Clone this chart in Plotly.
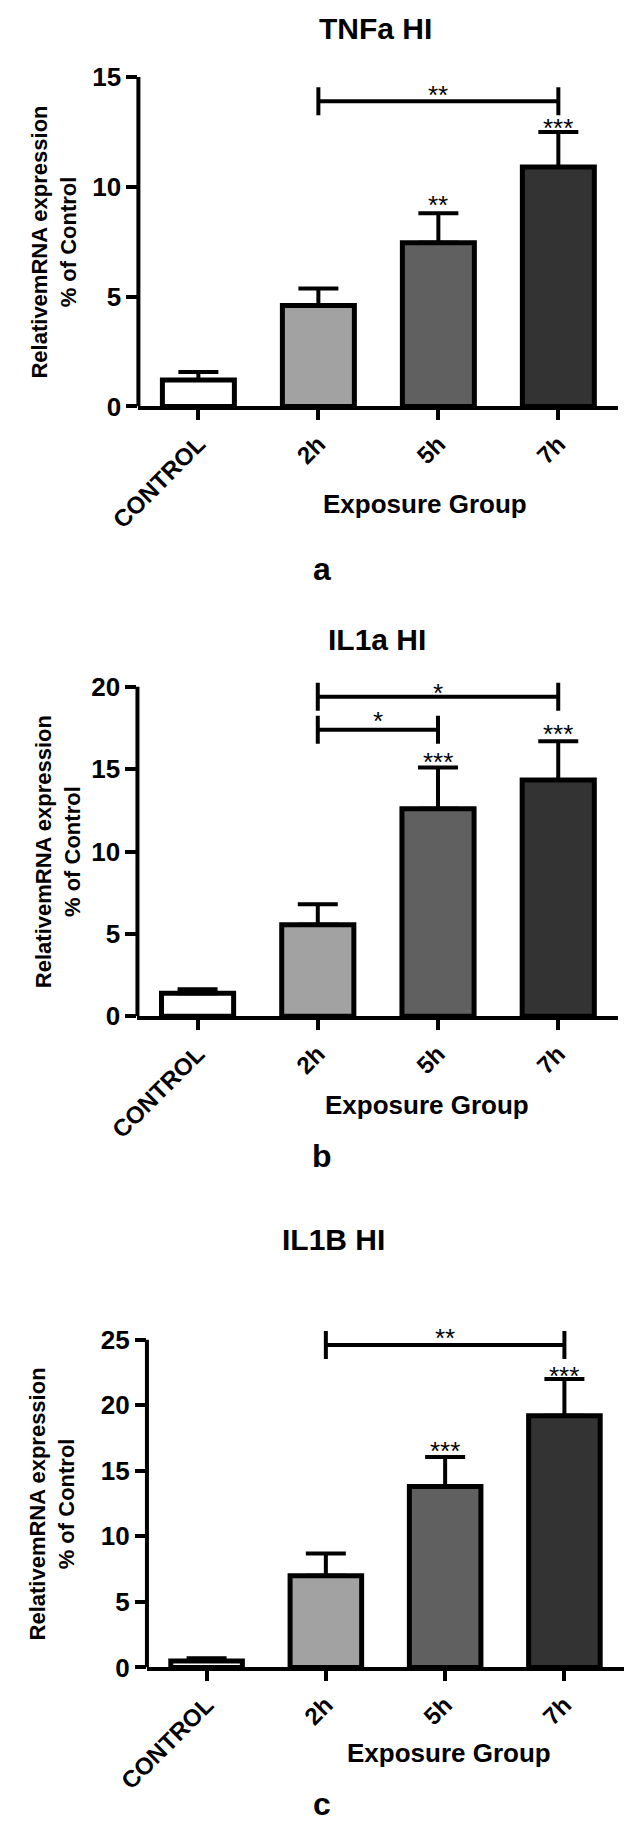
import plotly.graph_objects as go

# ---------------- data ----------------
categories = ["CONTROL", "2h", "5h", "7h"]
bar_colors = ["#ffffff", "#a2a2a2", "#606060", "#333333"]

titles = ["TNFa HI", "IL1a HI", "IL1B HI"]
panel_letters = ["a", "b", "c"]
x_title = "Exposure Group"
y_title = "RelativemRNA expression<br>% of Control"

tnfa_mean = [1.2, 4.6, 7.45, 10.9]
tnfa_sem = [0.37, 0.77, 1.35, 1.6]
il1a_mean = [1.4, 5.55, 12.6, 14.35]
il1a_sem = [0.25, 1.25, 2.5, 2.35]
il1b_mean = [0.5, 7.0, 13.8, 19.2]
il1b_sem = [0.2, 1.7, 2.25, 2.8]

y_ticks_a = [0, 5, 10, 15]
y_ticks_b = [0, 5, 10, 15, 20]
y_ticks_c = [0, 5, 10, 15, 20, 25]

# brackets: (from category index, to category index, bracket level, label, label level)
brackets_a = [(1, 3, 13.9, "**", 14.46)]
brackets_b = [(1, 3, 19.4, "*", 20.0), (1, 2, 17.4, "*", 18.3)]
brackets_c = [(1, 3, 24.6, "**", 25.6)]

# significance marks over bars: (category index, level, label)
stars_a = [(2, 9.45, "**"), (3, 12.93, "***")]
stars_b = [(2, 15.8, "***"), (3, 17.5, "***")]
stars_c = [(2, 17.0, "***"), (3, 22.65, "***")]

# ---------------- layout geometry (pixels) ----------------
W, H = 625, 1830
FONT = "Liberation Sans, Arial, Helvetica, sans-serif"

panels = [
    dict(mean=tnfa_mean, err=tnfa_sem, ticks=y_ticks_a, brackets=brackets_a, stars=stars_a,
         ytop=15.0, xl=113, xr=618, y0px=398, ytoppx=63,
         title_xy=(362, 14), letter_xy=(306, 563), xt_xy=(415, 497), yt_x=24),
    dict(mean=il1a_mean, err=il1a_sem, ticks=y_ticks_b, brackets=brackets_b, stars=stars_b,
         ytop=20.6, xl=112, xr=618, y0px=1018, ytoppx=1018 - 20.6 * 16.75,
         title_xy=(364, 635), letter_xy=(306, 1160), xt_xy=(417, 1108), yt_x=28),
    dict(mean=il1b_mean, err=il1b_sem, ticks=y_ticks_c, brackets=brackets_c, stars=stars_c,
         ytop=26.0, xl=122, xr=624, y0px=1680, ytoppx=1680 - 26.0 * 13.33,
         title_xy=(318, 1245), letter_xy=(306, 1819), xt_xy=(440, 1767), yt_x=22),
]

fig = go.Figure()
shapes = []
annotations = []
layout_axes = {}

for k, p in enumerate(panels):
    n = "" if k == 0 else str(k + 1)
    xa, ya = "x" + n, "y" + n
    fig.add_trace(go.Bar(
        x=list(range(len(categories))), y=p["mean"],
        xaxis=xa, yaxis=ya, width=0.6,
        marker=dict(color=bar_colors, line=dict(color="black", width=5)),
        error_y=dict(type="data", symmetric=False, array=p["err"],
                     arrayminus=[0] * len(categories), color="black",
                     thickness=4, width=20),
        showlegend=False, hoverinfo="skip",
    ))
    layout_axes["xaxis" + n] = dict(
        domain=[p["xl"] / W, p["xr"] / W], anchor=ya,
        range=[-0.5, len(categories) - 0.5],
        tickmode="array", tickvals=list(range(len(categories))), ticktext=categories,
        tickangle=-45, showline=True, linecolor="black", linewidth=4,
        ticks="outside", ticklen=10, tickwidth=4, tickcolor="black",
        tickfont=dict(family=FONT, size=24, color="black", weight="bold"),
        showgrid=False, zeroline=False, fixedrange=True,
    )
    layout_axes["yaxis" + n] = dict(
        domain=[1 - p["y0px"] / H, 1 - p["ytoppx"] / H], anchor=xa,
        range=[0, p["ytop"]], tickmode="array", tickvals=p["ticks"],
        showline=False, ticks="outside", ticklen=11, tickwidth=4, tickcolor="black",
        tickfont=dict(family=FONT, size=26, color="black", weight="bold"),
        showgrid=False, zeroline=False, fixedrange=True,
    )
    # y axis line up to the last tick
    shapes.append(dict(type="line", xref=xa + " domain", yref=ya, x0=0, x1=0,
                       y0=0, y1=p["ticks"][-1], line=dict(color="black", width=4)))
    # brackets
    for (i, j, lvl, lab, laby) in p["brackets"]:
        shapes.append(dict(type="line", xref=xa, yref=ya, x0=i, x1=j, y0=lvl, y1=lvl,
                           line=dict(color="black", width=4)))
        for xx in (i, j):
            shapes.append(dict(type="line", xref=xa, yref=ya, x0=xx, x1=xx,
                               ysizemode="pixel", yanchor=lvl, y0=-14, y1=14,
                               line=dict(color="black", width=4)))
        annotations.append(dict(xref=xa, yref=ya, x=(i + j) / 2, y=laby, text=lab,
                                showarrow=False, yanchor="middle", yshift=-6,
                                font=dict(family=FONT, size=26, color="black")))
    for (i, lvl, lab) in p["stars"]:
        annotations.append(dict(xref=xa, yref=ya, x=i, y=lvl, text=lab,
                                showarrow=False, yanchor="middle", yshift=-6,
                                font=dict(family=FONT, size=26, color="black")))
    # titles / labels
    tx, ty = p["title_xy"]
    annotations.append(dict(xref="paper", yref="paper", x=tx / W, y=1 - ty / H,
                            text=titles[k], showarrow=False, xanchor="center", yanchor="middle",
                            font=dict(family=FONT, size=30, color="black", weight="bold")))
    lx, ly = p["letter_xy"]
    annotations.append(dict(xref="paper", yref="paper", x=lx / W, y=1 - ly / H,
                            text=panel_letters[k], showarrow=False, xanchor="center", yanchor="middle",
                            font=dict(family=FONT, size=32, color="black", weight="bold")))
    ex, ey = p["xt_xy"]
    annotations.append(dict(xref="paper", yref="paper", x=ex / W, y=1 - ey / H,
                            text=x_title, showarrow=False, xanchor="center", yanchor="middle",
                            font=dict(family=FONT, size=26, color="black", weight="bold")))
    annotations.append(dict(xref="paper", yref=ya, x=p["yt_x"] / W, y=p["ticks"][-1] / 2,
                            text=y_title, showarrow=False, textangle=-90,
                            xanchor="center", yanchor="middle",
                            font=dict(family=FONT, size=22, color="black", weight="bold")))

fig.update_layout(
    width=W, height=H, margin=dict(l=0, r=0, t=0, b=0),
    paper_bgcolor="white", plot_bgcolor="white",
    shapes=shapes, annotations=annotations, bargap=0.4,
    **layout_axes,
)

fig.write_html("out.html", config={"displayModeBar": False, "staticPlot": True},
               post_script="document.body.style.margin='0px';")
